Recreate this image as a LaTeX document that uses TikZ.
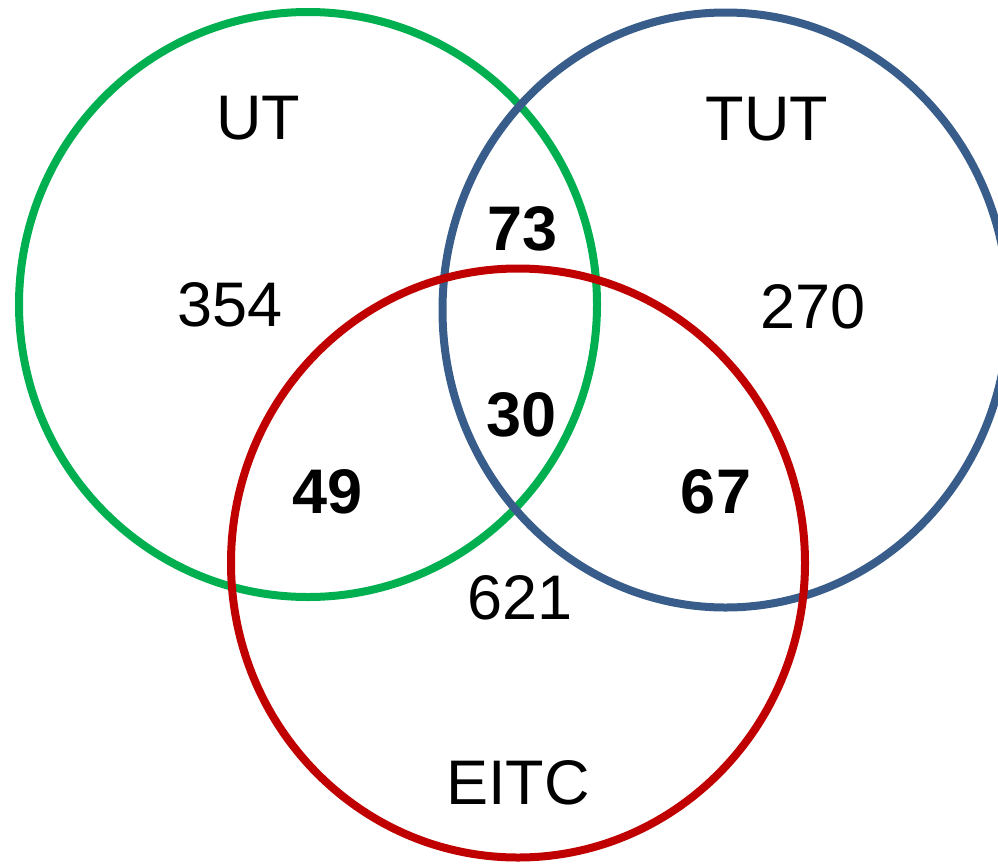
\documentclass[tikz,border=0pt]{standalone}
\usepackage{fontspec}
\setmainfont{Liberation Sans}
\definecolor{vgreen}{HTML}{00B050}
\definecolor{vblue}{HTML}{385D8A}
\definecolor{vred}{HTML}{C00000}
\begin{document}
\begin{tikzpicture}[x=1pt,y=-1pt,
  ring/.style={line width=8pt},
  lbl/.style={inner sep=0pt,font=\fontsize{63}{70}\selectfont},
  num/.style={inner sep=0pt,font=\fontsize{63}{70}\selectfont},
  bnum/.style={inner sep=0pt,font=\fontsize{63}{70}\selectfont\bfseries}]
\useasboundingbox (0,0) rectangle (998,865);
\begin{scope}
\clip (0,0) rectangle (998,865);
\draw[ring,vgreen] (308,304.5) ellipse [x radius=289, y radius=292.5];
\draw[ring,vblue] (725.5,310) ellipse [x radius=283, y radius=297.5];
\draw[ring,vred] (518,563) ellipse [x radius=287, y radius=294.5];
\end{scope}
\node[lbl] (ut) at (258,118) {UT};
\node[lbl] (tut) at (767,119) {TUT};
\node[lbl] (eitc) at (518,783) {EITC};
\node[num] (n354) at (230,305) {354};
\node[num] (n270) at (813,307) {270};
\node[num] (n621) at (520,598) {621};
\node[bnum] (n73) at (523,229) {73};
\node[bnum] (n30) at (522,415) {30};
\node[bnum] (n49) at (328,492) {49};
\node[bnum] (n67) at (716,492) {67};
\end{tikzpicture}
\end{document}
